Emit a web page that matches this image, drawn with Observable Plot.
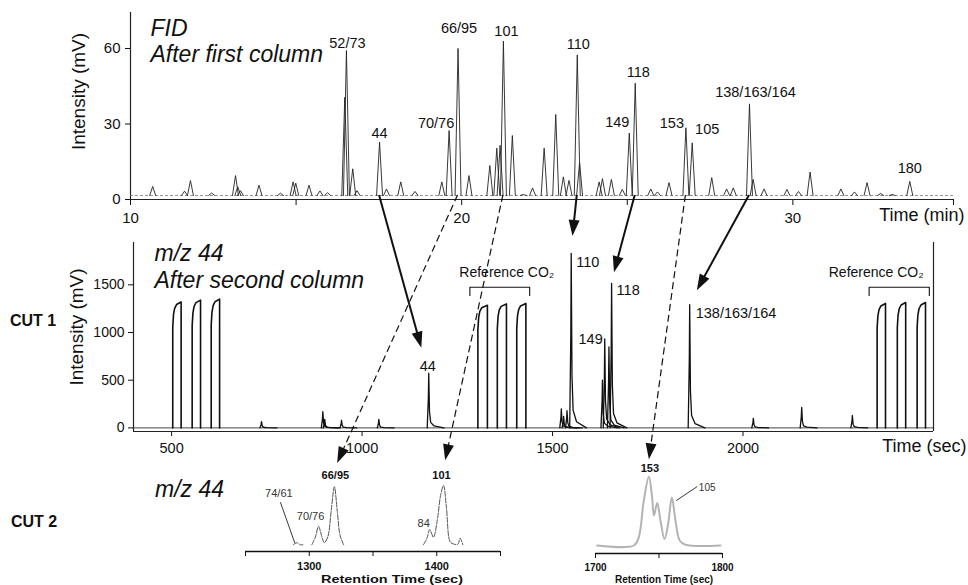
<!DOCTYPE html>
<html>
<head>
<meta charset="utf-8">
<script src="https://cdn.jsdelivr.net/npm/d3@7"></script>
<script src="https://cdn.jsdelivr.net/npm/@observablehq/plot@0.6"></script>
<style>
html,body{margin:0;padding:0;background:#fff;}
#fig{position:relative;width:968px;height:585px;overflow:hidden;background:#fff;}
#fig svg{position:absolute;}
</style>
</head>
<body>
<div id="fig"></div>
<script>
// ================= DATA =================
// Panel 1 — FID, after first column: peak retention time (min) and height (mV)
const fidPeakTimes = [10.67, 11.63, 11.81, 12.45, 13.17, 13.24, 13.32, 13.88, 14.53, 14.91, 14.99, 15.39, 15.72, 15.95, 16.47, 16.52, 16.71, 16.84, 17.52, 17.73, 18.16, 18.59, 19.40, 19.62, 19.89, 20.22, 20.85, 21.06, 21.16, 21.26, 21.53, 21.86, 22.14, 22.49, 22.84, 23.07, 23.24, 23.49, 23.56, 24.15, 24.25, 24.52, 24.85, 25.06, 25.24, 25.71, 25.91, 26.26, 26.77, 26.96, 27.55, 28.00, 28.20, 28.69, 28.80, 29.13, 29.82, 30.17, 30.52, 31.45, 31.86, 32.24, 32.65, 33.00, 33.53];
const fidPeakHeights = [5.2, 3.3, 7.5, 2.6, 9.5, 5, 3.5, 5.7, 2.5, 7, 6.5, 5.7, 3.4, 2.7, 40.6, 59.2, 12.2, 3.5, 22.8, 4.2, 7, 3.2, 7, 27.4, 60, 9.5, 13.5, 20.4, 21.5, 62.9, 25.4, 2, 4.6, 20.4, 33.8, 9, 7.6, 57.5, 14.6, 7, 8.3, 8, 4, 26.4, 46.2, 4.2, 3, 6.7, 28.5, 22.5, 8.7, 4.2, 4.6, 38, 8, 4.2, 4, 3.2, 10.9, 4.2, 3, 6.7, 2.4, 2, 7.2];
const fidBaselineLevel = 1.6;
const fidXTicks = [10, 15, 20, 25, 30, 34.85];
const fidXTickLabels = [10, 20, 30];
const fidYTicks = [0, 30, 60];
const fidLabels = ["52/73", "44", "70/76", "66/95", "101", "110", "118", "149", "153", "105", "138/163/164", "180"];
const fidLabelTimes = [16.52, 17.52, 19.62, 19.89, 21.26, 23.49, 25.24, 25.06, 26.77, 26.96, 28.69, 33.53];
const fidLabelHeights = [59.2, 22.8, 27.4, 60, 62.9, 57.5, 46.2, 26.4, 28.5, 22.5, 38, 7.2];

// Panel 2 — m/z 44 after second column (CUT 1): time (sec), intensity (mV)
const refPulseStarts = [503, 554, 604, 1304, 1355, 1406, 2352, 2405, 2457];
const refPulseEnds = [525, 576, 626, 1329, 1379, 1430, 2374, 2427, 2479];
const refPulseTops = [1320, 1340, 1350, 1285, 1300, 1305, 1305, 1315, 1315];
const refGroupLabel = "Reference CO₂";
const refLabeledGroups = [1, 2];
const ms44PeakTimes = [736, 897, 902, 946, 1044, 1175, 1523, 1529, 1538, 1549, 1631, 1637, 1648, 1655, 1860, 2027, 2154, 2287];
const ms44PeakHeights = [66, 171, 90, 80, 90, 573, 199, 120, 180, 1830, 500, 933, 850, 1516, 1292, 100, 216, 130];
const ms44XTicks = [500, 1000, 1500, 2000];
const ms44YTicks = [0, 500, 1000, 1500];
const ms44Labels = ["44", "110", "118", "149", "138/163/164"];
const ms44LabelTimes = [1175, 1549, 1655, 1637, 1860];
const ms44LabelHeights = [573, 1830, 1516, 933, 1292];

// Panel 3 — CUT 2, m/z 44 (retention time sec, relative signal)
const cut2aTimes = [1287.5, 1290.3, 1293, 1295, 1302, 1304.8, 1307.3, 1309.6, 1311.8, 1314.5, 1317.3, 1319.7, 1322, 1324.2, 1327, 1389.5, 1392.2, 1394.5, 1397.4, 1400.5, 1403, 1405.3, 1407.6, 1410.5, 1413, 1416.5, 1418.3, 1420.5];
const cut2aSignal = [8.4, 11, 8.4, 8.4, 8.4, 18, 31.6, 20, 11, 18, 52, 81, 50, 20, 8.4, 8.4, 16, 27.5, 17.9, 40, 70, 82.5, 55, 12, 9.5, 9, 16.6, 8.4];
const cut2aSegment = [0, 0, 0, 0, 1, 1, 1, 1, 1, 1, 1, 1, 1, 1, 1, 2, 2, 2, 2, 2, 2, 2, 2, 2, 2, 2, 2, 2];
const cut2aTicks = [1250, 1300, 1350, 1400, 1450];
const cut2aTickLabels = [1300, 1400];
const cut2aLabels = ["74/61", "70/76", "66/95", "84", "101"];
const cut2aLabelTimes = [1290.3, 1307.3, 1319.7, 1394.5, 1405.3];
const cut2aLabelSignal = [11, 31.6, 81, 27.5, 82.5];

const cut2bTimes = [1701.3, 1730.2, 1734.1, 1738, 1742, 1744.6, 1746, 1748.6, 1751.2, 1754.3, 1757.2, 1760.1, 1763, 1766.4, 1770.9, 1798.4];
const cut2bSignal = [10, 10, 20.4, 66, 96, 70, 47.5, 63, 41, 18, 37, 70, 41, 16, 11, 10];
const cut2bTicks = [1700, 1750, 1800];
const cut2bTickLabels = [1700, 1800];
const cut2bLabels = ["153", "105"];
const cut2bLabelTimes = [1742, 1760.1];
const cut2bLabelSignal = [96, 70];

// Arrows: first-column peaks traced to the second-column cuts
const cut1Links = ["44", "110", "118", "138/163/164"];
const cut2Links = ["66/95", "101", "153"];

// ================= STYLE =================
const FONT = "'Liberation Sans', Arial, Helvetica, sans-serif";
const INK = "#111";
const base = {fontFamily: FONT, background: "transparent", overflow: "visible", color: INK};
const fidLabelStyle = {"52/73": [1, -3], "44": [0, -4], "70/76": [-13, -3], "66/95": [1, -15], "101": [3, -5], "110": [1, -6], "118": [3, -6], "149": [-12, -6], "153": [-14, 0], "105": [15, -9], "138/163/164": [6, -7], "180": [0, -8]};
const ms44LabelStyle = {"44": ["middle", -1, -2], "110": ["start", 5, 14], "118": ["start", 5, 12], "149": ["end", -2, 5], "138/163/164": ["start", 6, 13]};
const cut2aLabelStyle = {"74/61": [-18, -46, false], "70/76": [-8, -6, false], "66/95": [1, -8, true], "84": [-6, -3, false], "101": [-2, -7, true]};
const cut2bLabelStyle = {"153": ["middle", 1, -5, true], "105": ["start", 27, -7, false]};
const cut1Gap = {"44": 26, "110": 17, "118": 11, "138/163/164": 16};
const cut2Gap = {"66/95": 8, "101": 10, "153": 4};
const refLabelDx = [7, -23];

const fig = document.getElementById("fig");
function place(svg, left, top) { svg.style.left = left + "px"; svg.style.top = top + "px"; fig.appendChild(svg); }

// ================= PANEL 1: FID =================
const PEAK_HW = 0.09;
const fidTrace = fidPeakTimes.flatMap((t, i) => [
  {t: t - PEAK_HW, v: fidBaselineLevel, id: i},
  {t: t, v: fidPeakHeights[i], id: i},
  {t: t + PEAK_HW, v: fidBaselineLevel, id: i}
]);
const fidLabelRows = fidLabels.map((s, i) => ({s, t: fidLabelTimes[i], v: fidLabelHeights[i]}));

const TOP_Y = 0;
const topPlot = Plot.plot({
  width: 968, height: 225,
  marginLeft: 130, marginRight: 15, marginTop: 12, marginBottom: 26,
  style: {...base, fontSize: "15px"},
  x: {domain: [10, 34.85]},
  y: {domain: [0, 74.3]},
  marks: [
    Plot.axisX({ticks: fidXTicks, tickFormat: d => fidXTickLabels.includes(d) ? String(d) : "", tickSize: 6, tickPadding: 7, label: null, fontSize: 15}),
    Plot.axisY({ticks: fidYTicks, tickFormat: d => String(d), tickSize: 5, tickPadding: 5, label: null, fontSize: 15}),
    Plot.ruleY([0], {stroke: "#222", strokeWidth: 1.2}),
    Plot.ruleX([10], {stroke: "#222", strokeWidth: 1.2}),
    Plot.ruleY([fidBaselineLevel], {stroke: "#666", strokeWidth: 0.7, strokeDasharray: "3,2"}),
    Plot.line(fidTrace, {x: "t", y: "v", z: "id", stroke: "#222", strokeWidth: 0.9}),
    ...fidLabelRows.map(r => Plot.text([r], {x: "t", y: "v", text: "s", dx: fidLabelStyle[r.s][0], dy: fidLabelStyle[r.s][1], lineAnchor: "bottom", textAnchor: "middle", fontSize: 14.5, fill: INK})),
    Plot.text(["Time (min)"], {frameAnchor: "bottom-right", textAnchor: "end", lineAnchor: "bottom", dx: 11, dy: 21, fontSize: 18, fill: INK}),
    Plot.text(["Intensity (mV)"], {frameAnchor: "left", textAnchor: "middle", lineAnchor: "middle", rotate: -90, dx: -51.5, dy: -14.5, fontSize: 19, fill: INK}),
    Plot.text(["FID"], {frameAnchor: "top-left", textAnchor: "start", lineAnchor: "bottom", dx: 20, dy: 23, fontSize: 23, fontStyle: "italic", fill: INK}),
    Plot.text(["After first column"], {frameAnchor: "top-left", textAnchor: "start", lineAnchor: "bottom", dx: 20, dy: 49, fontSize: 23, fontStyle: "italic", fill: INK})
  ]
});
place(topPlot, 0, TOP_Y);

// ================= PANEL 2: m/z 44 CUT 1 =================
const refTrace = refPulseStarts.flatMap((s, i) => {
  const e = refPulseEnds[i], h = refPulseTops[i];
  return [[s, 0], [s, 0.8 * h], [s + 2, 0.9 * h], [s + 5, 0.95 * h], [s + 10, 0.98 * h], [e, h], [e, 0]].map(([t, v]) => ({t, v, id: i}));
});
const ms44Trace = ms44PeakTimes.flatMap((t0, i) => {
  const h = ms44PeakHeights[i];
  return [[t0 - 4, 0], [t0 - 1, 0.55 * h], [t0, h], [t0 + 2, 0.3 * h], [t0 + 5, 0.1 * h], [t0 + 14, 0.035 * h], [t0 + 40, 0]].map(([t, v]) => ({t, v, id: i}));
});
const refGroups = d3.range(0, refPulseStarts.length, 3).map(k => ({start: refPulseStarts[k], end: refPulseEnds[k + 2]}));
const BR_TOP = 1475, BR_BOT = 1388, BR_L = 21, BR_R = 10, REF_TXT = 1577;
const bracketRows = refLabeledGroups.flatMap(g => {
  const {start, end} = refGroups[g];
  return [[start - BR_L, BR_BOT], [start - BR_L, BR_TOP], [end + BR_R, BR_TOP], [end + BR_R, BR_BOT]].map(([t, v]) => ({t, v, g}));
});
const ms44LabelRows = ms44Labels.map((s, i) => ({s, t: ms44LabelTimes[i], v: ms44LabelHeights[i]}));

const MID_Y = 225;
const midPlot = Plot.plot({
  width: 968, height: 230,
  marginLeft: 133, marginRight: 35, marginTop: 17, marginBottom: 24,
  style: {...base, fontSize: "14px"},
  x: {domain: [400, 2500]},
  y: {domain: [-38, 1944]},
  marks: [
    Plot.axisX({ticks: ms44XTicks, tickFormat: d => String(d), tickSize: 5, tickPadding: 6, label: null, fontSize: 14.5}),
    Plot.axisY({ticks: ms44YTicks, tickFormat: d => String(d), tickSize: 5, tickPadding: 4, label: null, fontSize: 14}),
    Plot.ruleY([-38], {stroke: "#222", strokeWidth: 1.2}),
    Plot.ruleX([400], {stroke: "#222", strokeWidth: 1.2}),
    Plot.ruleX([2500], {stroke: "#222", strokeWidth: 1.2}),
    Plot.ruleY([0], {stroke: "#333", strokeWidth: 0.9}),
    Plot.line(refTrace, {x: "t", y: "v", z: "id", stroke: "#111", strokeWidth: 1.6}),
    Plot.line(ms44Trace, {x: "t", y: "v", z: "id", stroke: "#111", strokeWidth: 1.3}),
    Plot.line(bracketRows, {x: "t", y: "v", z: "g", stroke: "#111", strokeWidth: 1.1}),
    ...refLabeledGroups.map((g, j) => Plot.text([refGroups[g]], {x: d => (d.start - BR_L + d.end + BR_R) / 2, y: () => REF_TXT, text: () => refGroupLabel, dx: refLabelDx[j], lineAnchor: "bottom", textAnchor: "middle", fontSize: 14, fill: INK})),
    ...ms44LabelRows.map(r => {
      const [a, dx, dy] = ms44LabelStyle[r.s];
      return Plot.text([r], {x: "t", y: "v", text: "s", dx, dy, textAnchor: a, lineAnchor: "bottom", fontSize: 14.5, fill: INK});
    }),
    Plot.text(["Time (sec)"], {frameAnchor: "bottom-right", textAnchor: "end", lineAnchor: "bottom", dx: 33, dy: 20, fontSize: 18, fill: INK}),
    Plot.text(["Intensity (mV)"], {frameAnchor: "left", textAnchor: "middle", lineAnchor: "middle", rotate: -90, dx: -56.5, dy: -10, fontSize: 19, fill: INK}),
    Plot.text(["m/z 44"], {frameAnchor: "top-left", textAnchor: "start", lineAnchor: "bottom", dx: 21, dy: 18, fontSize: 23, fontStyle: "italic", fill: INK}),
    Plot.text(["After second column"], {frameAnchor: "top-left", textAnchor: "start", lineAnchor: "bottom", dx: 21, dy: 45, fontSize: 23, fontStyle: "italic", fill: INK})
  ]
});
place(midPlot, 0, MID_Y);

// ================= PANEL 3: CUT 2 zooms =================
const BOT_Y = 455;
const cut2aRows = cut2aTimes.map((t, i) => ({t, v: cut2aSignal[i], seg: cut2aSegment[i]}));
const cut2aLabelRows = cut2aLabels.map((s, i) => ({s, t: cut2aLabelTimes[i], v: cut2aLabelSignal[i]}));
const cutA = Plot.plot({
  width: 968, height: 130,
  marginLeft: 245, marginRight: 468, marginTop: 16, marginBottom: 34,
  style: {...base, fontSize: "11px"},
  x: {domain: [1250, 1450]},
  y: {domain: [0, 100], axis: null},
  marks: [
    Plot.axisX({ticks: cut2aTicks, tickFormat: d => cut2aTickLabels.includes(d) ? String(d) : "", tickSize: 5, tickPadding: 6, label: null, fontSize: 11, fontWeight: "bold"}),
    Plot.ruleY([0], {stroke: "#111", strokeWidth: 1.3}),
    Plot.line(cut2aRows, {x: "t", y: "v", z: "seg", curve: "catmull-rom", stroke: "#555", strokeWidth: 1, strokeDasharray: "5,1.5"}),
    ...cut2aLabelRows.map(r => {
      const [dx, dy, bold] = cut2aLabelStyle[r.s];
      return Plot.text([r], {x: "t", y: "v", text: "s", dx, dy, lineAnchor: "bottom", textAnchor: "middle", fontSize: 11, fontWeight: bold ? "bold" : "normal", fill: bold ? INK : "#333"});
    }),
    Plot.text(["Retention Time (sec)"], {frameAnchor: "bottom", textAnchor: "middle", lineAnchor: "bottom", dx: 19, dy: 31, fontSize: 11, fontWeight: "bold", fill: INK})
  ]
});
place(cutA, 0, BOT_Y);
d3.select(cutA).selectAll("text").filter(function() { return this.textContent === "Retention Time (sec)"; })
  .attr("textLength", 142).attr("lengthAdjust", "spacingAndGlyphs");

const cut2bRows = cut2bTimes.map((t, i) => ({t, v: cut2bSignal[i]}));
const cut2bLabelRows = cut2bLabels.map((s, i) => ({s, t: cut2bLabelTimes[i], v: cut2bLabelSignal[i]}));
const cutB = Plot.plot({
  width: 968, height: 130,
  marginLeft: 595, marginRight: 246, marginTop: 18, marginBottom: 32,
  style: {...base, fontSize: "10px"},
  x: {domain: [1700, 1800]},
  y: {domain: [0, 100], axis: null},
  marks: [
    Plot.axisX({ticks: cut2bTicks, tickFormat: d => cut2bTickLabels.includes(d) ? String(d) : "", tickSize: 5, tickPadding: 5, label: null, fontSize: 10, fontWeight: "bold"}),
    Plot.ruleY([0], {stroke: "#111", strokeWidth: 1.3}),
    Plot.line(cut2bRows, {x: "t", y: "v", curve: "catmull-rom", stroke: "#b4b4b4", strokeWidth: 2}),
    ...cut2bLabelRows.map(r => {
      const [a, dx, dy, bold] = cut2bLabelStyle[r.s];
      return Plot.text([r], {x: "t", y: "v", text: "s", dx, dy, textAnchor: a, lineAnchor: "bottom", fontSize: bold ? 11 : 10, fontWeight: bold ? "bold" : "normal", fill: bold ? INK : "#333"});
    }),
    Plot.text(["Retention Time (sec)"], {frameAnchor: "bottom", textAnchor: "middle", lineAnchor: "bottom", dx: 5, dy: 29, fontSize: 10, fontWeight: "bold", fill: INK})
  ]
});
place(cutB, 0, BOT_Y);

// ================= OVERLAY: arrows, leaders, side labels =================
const sx = (p, v) => p.scale("x").apply(v);
const sy = (p, v, off) => p.scale("y").apply(v) + off;

const overlay = d3.create("svg").attr("width", 968).attr("height", 585)
  .style("left", "0px").style("top", "0px").style("overflow", "visible")
  .attr("font-family", FONT);
overlay.style("position", "absolute");

function arrow(x0, y0, x1, y1, gap, dashed) {
  const dx = x1 - x0, dy = y1 - y0, L = Math.hypot(dx, dy), ux = dx / L, uy = dy / L;
  const tx = x1 - ux * gap, ty = y1 - uy * gap;
  const HL = 16, HW = 5.5;
  const bx = tx - ux * HL, by = ty - uy * HL;
  overlay.append("line").attr("x1", x0).attr("y1", y0).attr("x2", bx + ux * 3).attr("y2", by + uy * 3)
    .attr("stroke", "#111").attr("stroke-width", dashed ? 1.2 : 2)
    .attr("stroke-dasharray", dashed ? "7,4" : null);
  overlay.append("path").attr("d", `M${tx},${ty}L${bx - uy * HW},${by + ux * HW}L${bx + uy * HW},${by - ux * HW}Z`).attr("fill", "#111");
}

const fidStart = name => {
  const i = fidLabels.indexOf(name);
  return [sx(topPlot, fidLabelTimes[i]), sy(topPlot, fidBaselineLevel, TOP_Y)];
};
cut1Links.forEach(name => {
  const [x0, y0] = fidStart(name);
  const j = ms44Labels.indexOf(name);
  arrow(x0, y0, sx(midPlot, ms44LabelTimes[j]), sy(midPlot, ms44LabelHeights[j], MID_Y), cut1Gap[name], false);
});
cut2Links.forEach(name => {
  const [x0, y0] = fidStart(name);
  let x1, y1;
  const ia = cut2aLabels.indexOf(name);
  if (ia >= 0) {
    x1 = sx(cutA, cut2aLabelTimes[ia]);
    y1 = sy(cutA, cut2aLabelSignal[ia], BOT_Y) + cut2aLabelStyle[name][1] - 8;
  } else {
    const ib = cut2bLabels.indexOf(name);
    x1 = sx(cutB, cut2bLabelTimes[ib]);
    y1 = sy(cutB, cut2bLabelSignal[ib], BOT_Y) + cut2bLabelStyle[name][2] - 8;
  }
  arrow(x0, y0, x1, y1, cut2Gap[name], true);
});

// leader lines for small labels
{
  const i = cut2aLabels.indexOf("74/61");
  const px = sx(cutA, cut2aLabelTimes[i]), py = sy(cutA, cut2aLabelSignal[i], BOT_Y);
  overlay.append("line").attr("x1", px - 16).attr("y1", py - 40).attr("x2", px - 1.5).attr("y2", py + 1).attr("stroke", "#222").attr("stroke-width", 0.9);
  const k = cut2bLabels.indexOf("105");
  const qx = sx(cutB, cut2bLabelTimes[k]), qy = sy(cutB, cut2bLabelSignal[k], BOT_Y);
  overlay.append("line").attr("x1", qx + 5).attr("y1", qy + 3.5).attr("x2", qx + 26).attr("y2", qy - 10.5).attr("stroke", "#222").attr("stroke-width", 0.9);
}

overlay.append("text").attr("x", 10).attr("y", 326).attr("font-size", 16).attr("font-weight", "bold").attr("fill", INK).text("CUT 1");
overlay.append("text").attr("x", 11).attr("y", 527).attr("font-size", 16).attr("font-weight", "bold").attr("fill", INK).text("CUT 2");
overlay.append("text").attr("x", 155).attr("y", 497).attr("font-size", 23).attr("font-style", "italic").attr("fill", INK).text("m/z 44");

fig.appendChild(overlay.node());
</script>
</body>
</html>
